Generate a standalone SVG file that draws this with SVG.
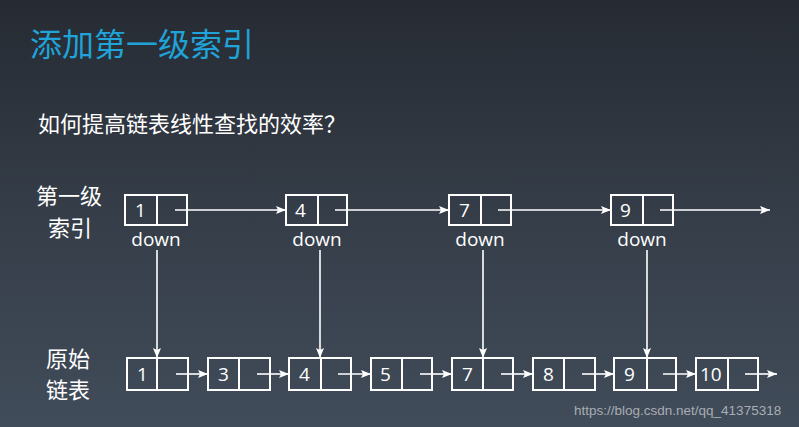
<svg xmlns="http://www.w3.org/2000/svg" width="799" height="427" viewBox="0 0 799 427">
<defs>
<linearGradient id="bg" x1="0" y1="0" x2="0" y2="1">
<stop offset="0" stop-color="#262b33"/>
<stop offset="0.5" stop-color="#353d48"/>
<stop offset="1" stop-color="#414c5a"/>
</linearGradient>
<marker id="ah" viewBox="0 0 10 10" refX="10" refY="5" markerWidth="10" markerHeight="10" markerUnits="userSpaceOnUse" orient="auto">
<path d="M0,1 L10,5 L0,9 L2,5 Z" fill="#ffffff"/>
</marker>
<style>
.box{fill:none;stroke:#ffffff;stroke-width:2}
.ln{stroke:#ffffff;stroke-width:1.6;fill:none;marker-end:url(#ah)}
.num{font-family:"Open Sans","Noto Sans",sans-serif;font-size:19px;fill:#ffffff}
.dn{font-family:"Open Sans","Noto Sans",sans-serif;font-size:19px;fill:#ffffff;text-anchor:middle}
.lbl{font-family:"Noto Sans CJK SC",sans-serif;font-size:22px;fill:#ffffff}
</style>
</defs>
<rect width="799" height="427" fill="url(#bg)"/>
<text x="30" y="56" font-family="Noto Sans CJK SC,sans-serif" font-size="32" fill="#1fa3d8">添加第一级索引</text>
<text x="38" y="132" class="lbl">如何提高链表线性查找的效率？</text>
<text x="36" y="204" class="lbl">第一级</text>
<text x="48" y="236" class="lbl">索引</text>
<text x="46" y="367" class="lbl">原始</text>
<text x="46" y="398" class="lbl">链表</text>

<g id="connectors">
<line class="ln" x1="175" y1="210" x2="286" y2="210"/>
<line class="ln" x1="335" y1="210" x2="449" y2="210"/>
<line class="ln" x1="498" y1="210" x2="611" y2="210"/>
<line class="ln" x1="660" y1="210" x2="770" y2="210"/>
<line class="ln" x1="157" y1="250" x2="157" y2="358"/>
<line class="ln" x1="320" y1="250" x2="320" y2="358"/>
<line class="ln" x1="483" y1="250" x2="483" y2="358"/>
<line class="ln" x1="647" y1="250" x2="647" y2="358"/>
<line class="ln" x1="176" y1="374" x2="208" y2="374"/>
<line class="ln" x1="257" y1="374" x2="289" y2="374"/>
<line class="ln" x1="338" y1="374" x2="371" y2="374"/>
<line class="ln" x1="420" y1="374" x2="452" y2="374"/>
<line class="ln" x1="501" y1="374" x2="533" y2="374"/>
<line class="ln" x1="582" y1="374" x2="614" y2="374"/>
<line class="ln" x1="663" y1="374" x2="696" y2="374"/>
<line class="ln" x1="745" y1="374" x2="777" y2="374"/>
</g>

<g id="idx1"><rect class="box" x="125" y="195" width="62" height="30"/><line class="box" x1="157" y1="195" x2="157" y2="225"/><text class="num" x="135" y="217">1</text><text class="dn" x="156" y="246">down</text></g>
<g id="idx4"><rect class="box" x="286" y="195" width="61" height="30"/><line class="box" x1="318" y1="195" x2="318" y2="225"/><text class="num" x="295" y="217">4</text><text class="dn" x="317" y="246">down</text></g>
<g id="idx7"><rect class="box" x="449" y="195" width="62" height="30"/><line class="box" x1="481" y1="195" x2="481" y2="225"/><text class="num" x="459" y="217">7</text><text class="dn" x="480" y="246">down</text></g>
<g id="idx9"><rect class="box" x="611" y="195" width="62" height="30"/><line class="box" x1="643" y1="195" x2="643" y2="225"/><text class="num" x="620" y="217">9</text><text class="dn" x="642" y="246">down</text></g>

<g id="n1"><rect class="box" x="127" y="358" width="61" height="32"/><line class="box" x1="157" y1="358" x2="157" y2="390"/><text class="num" x="137" y="381">1</text></g>
<g id="n3"><rect class="box" x="208" y="358" width="62" height="32"/><line class="box" x1="239" y1="358" x2="239" y2="390"/><text class="num" x="218" y="381">3</text></g>
<g id="n4"><rect class="box" x="289" y="358" width="62" height="32"/><line class="box" x1="321" y1="358" x2="321" y2="390"/><text class="num" x="299" y="381">4</text></g>
<g id="n5"><rect class="box" x="371" y="358" width="61" height="32"/><line class="box" x1="402" y1="358" x2="402" y2="390"/><text class="num" x="380" y="381">5</text></g>
<g id="n7"><rect class="box" x="452" y="358" width="61" height="32"/><line class="box" x1="483" y1="358" x2="483" y2="390"/><text class="num" x="462" y="381">7</text></g>
<g id="n8"><rect class="box" x="533" y="358" width="62" height="32"/><line class="box" x1="564" y1="358" x2="564" y2="390"/><text class="num" x="543" y="381">8</text></g>
<g id="n9"><rect class="box" x="614" y="358" width="62" height="32"/><line class="box" x1="647" y1="358" x2="647" y2="390"/><text class="num" x="624" y="381">9</text></g>
<g id="n10"><rect class="box" x="696" y="358" width="62" height="32"/><line class="box" x1="728" y1="358" x2="728" y2="390"/><text class="num" x="700" y="381">10</text></g>

<text x="574" y="415" font-family="Liberation Sans,sans-serif" font-size="13.5" fill="#a8adb4">https://blog.csdn.net/qq_41375318</text>
</svg>
